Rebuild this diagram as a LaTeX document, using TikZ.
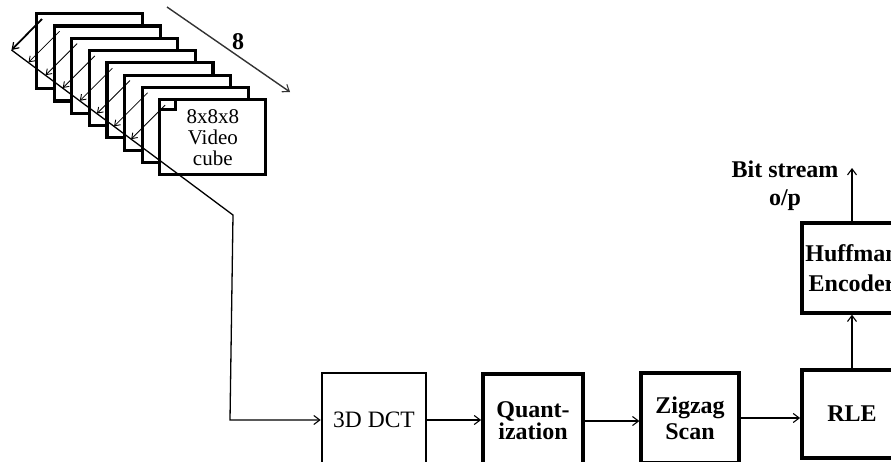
\documentclass[tikz,border=0pt]{standalone}
\usepackage{fontspec}
\setmainfont{Liberation Serif}
\usetikzlibrary{arrows.meta}
\tikzset{
  framebox/.style={draw, line width=3.2pt, fill=white, minimum width=106pt, minimum height=75pt, inner sep=0pt, anchor=north west},
  blockbox/.style={draw, line width=3.2pt, fill=white, inner sep=0pt, align=center, font=\fontsize{24}{22}\selectfont\bfseries},
  conn/.style={line width=1.5pt, -{Straight Barb[length=6pt,width=9pt,line width=1.1pt]}},
  thinarrow/.style={line width=0.8pt, -{Straight Barb[length=5pt,width=7pt,line width=0.9pt]}},
}
\begin{document}
\begin{tikzpicture}[x=1pt,y=-1pt]
\useasboundingbox (0,0) rectangle (891,461);
\clip (0,0) rectangle (891,461);
% frames
\foreach \k in {0,...,6}{
  \pgfmathsetmacro{\fx}{35+17.6*\k}
  \pgfmathsetmacro{\fy}{12+12.3*\k}
  \node[framebox] (f\k) at (\fx,\fy) {};
}
\node[framebox, align=center, font=\fontsize{21}{21}\selectfont] (f7) at (158.2,98.1) {8x8x8\\Video\\cube};
% notch in front frame
\coordinate (n1) at (175.5,98.1);
\coordinate (n2) at (175.5,109.5);
\coordinate (n3) at (158.2,109.5);
\draw[line width=2.6pt] (n1) -- (n2) -- (n3);
% small arrows
\foreach \k in {1,...,7}{
  \pgfmathsetmacro{\sx}{42+17.6*\k}
  \pgfmathsetmacro{\sy}{19+12.3*\k}
  \pgfmathsetmacro{\t}{30.6+0.49*\k}
  \coordinate (s\k) at (\sx,\sy);
  \coordinate (e\k) at ({\sx-\t},{\sy+\t});
  \draw[thinarrow] (s\k) -- (e\k);
}
\coordinate (s0) at (42,19);
\coordinate (e0) at (11.5,50);
\draw[line width=1.8pt, -{Straight Barb[length=6pt,width=8pt,line width=1.2pt]}] (s0) -- (e0);
% "8" dimension arrow
\coordinate (d1) at (167,7);
\coordinate (d2) at (290,92);
\draw[line width=1.4pt, black!80, -{Straight Barb[length=6pt,width=9pt,line width=1.1pt]}] (d1) -- (d2);
\node[font=\fontsize{24}{24}\selectfont\bfseries] (eight) at (238,42) {8};
% blocks
\node[blockbox, font=\fontsize{23.5}{23.5}\selectfont, line width=2.6pt, minimum width=104pt, minimum height=94pt] (dct) at (374,420) {3D DCT};
\node[blockbox, line width=3.8pt, minimum width=100pt, minimum height=94pt] (quant) at (533,421) {Quant-\\ization};
\node[blockbox, font=\fontsize{24}{26}\selectfont\bfseries, minimum width=98pt, minimum height=90pt] (zig) at (690,418) {Zigzag\\Scan};
\node[blockbox, line width=3.8pt, minimum width=100pt, minimum height=88pt] (rle) at (852,414) {RLE};
\node[blockbox, font=\fontsize{24}{30}\selectfont\bfseries, minimum width=100pt, minimum height=90pt] (huff) at (852,268) {Huffman\\Encoder};
\node[align=center, font=\fontsize{24}{28}\selectfont\bfseries] (bits) at (785,186) {Bit stream\\o/p};
\coordinate (out) at (852,168);
% connectors
\coordinate (c1) at (233,215);
\coordinate (c2) at (230,420);
\draw[line width=1.3pt, -{Straight Barb[length=6pt,width=9pt,line width=1.1pt]}] (e0) -- (c1) -- (c2) -- (dct.west);
\draw[conn] (dct.east) -- (quant.west |- dct.east);
\draw[conn] (quant.east) -- (zig.west |- quant.east);
\draw[conn] (zig.east) -- (rle.west |- zig.east);
\draw[conn] (rle.north) -- (huff.south);
\draw[conn] (huff.north) -- (out);
\end{tikzpicture}
\end{document}
